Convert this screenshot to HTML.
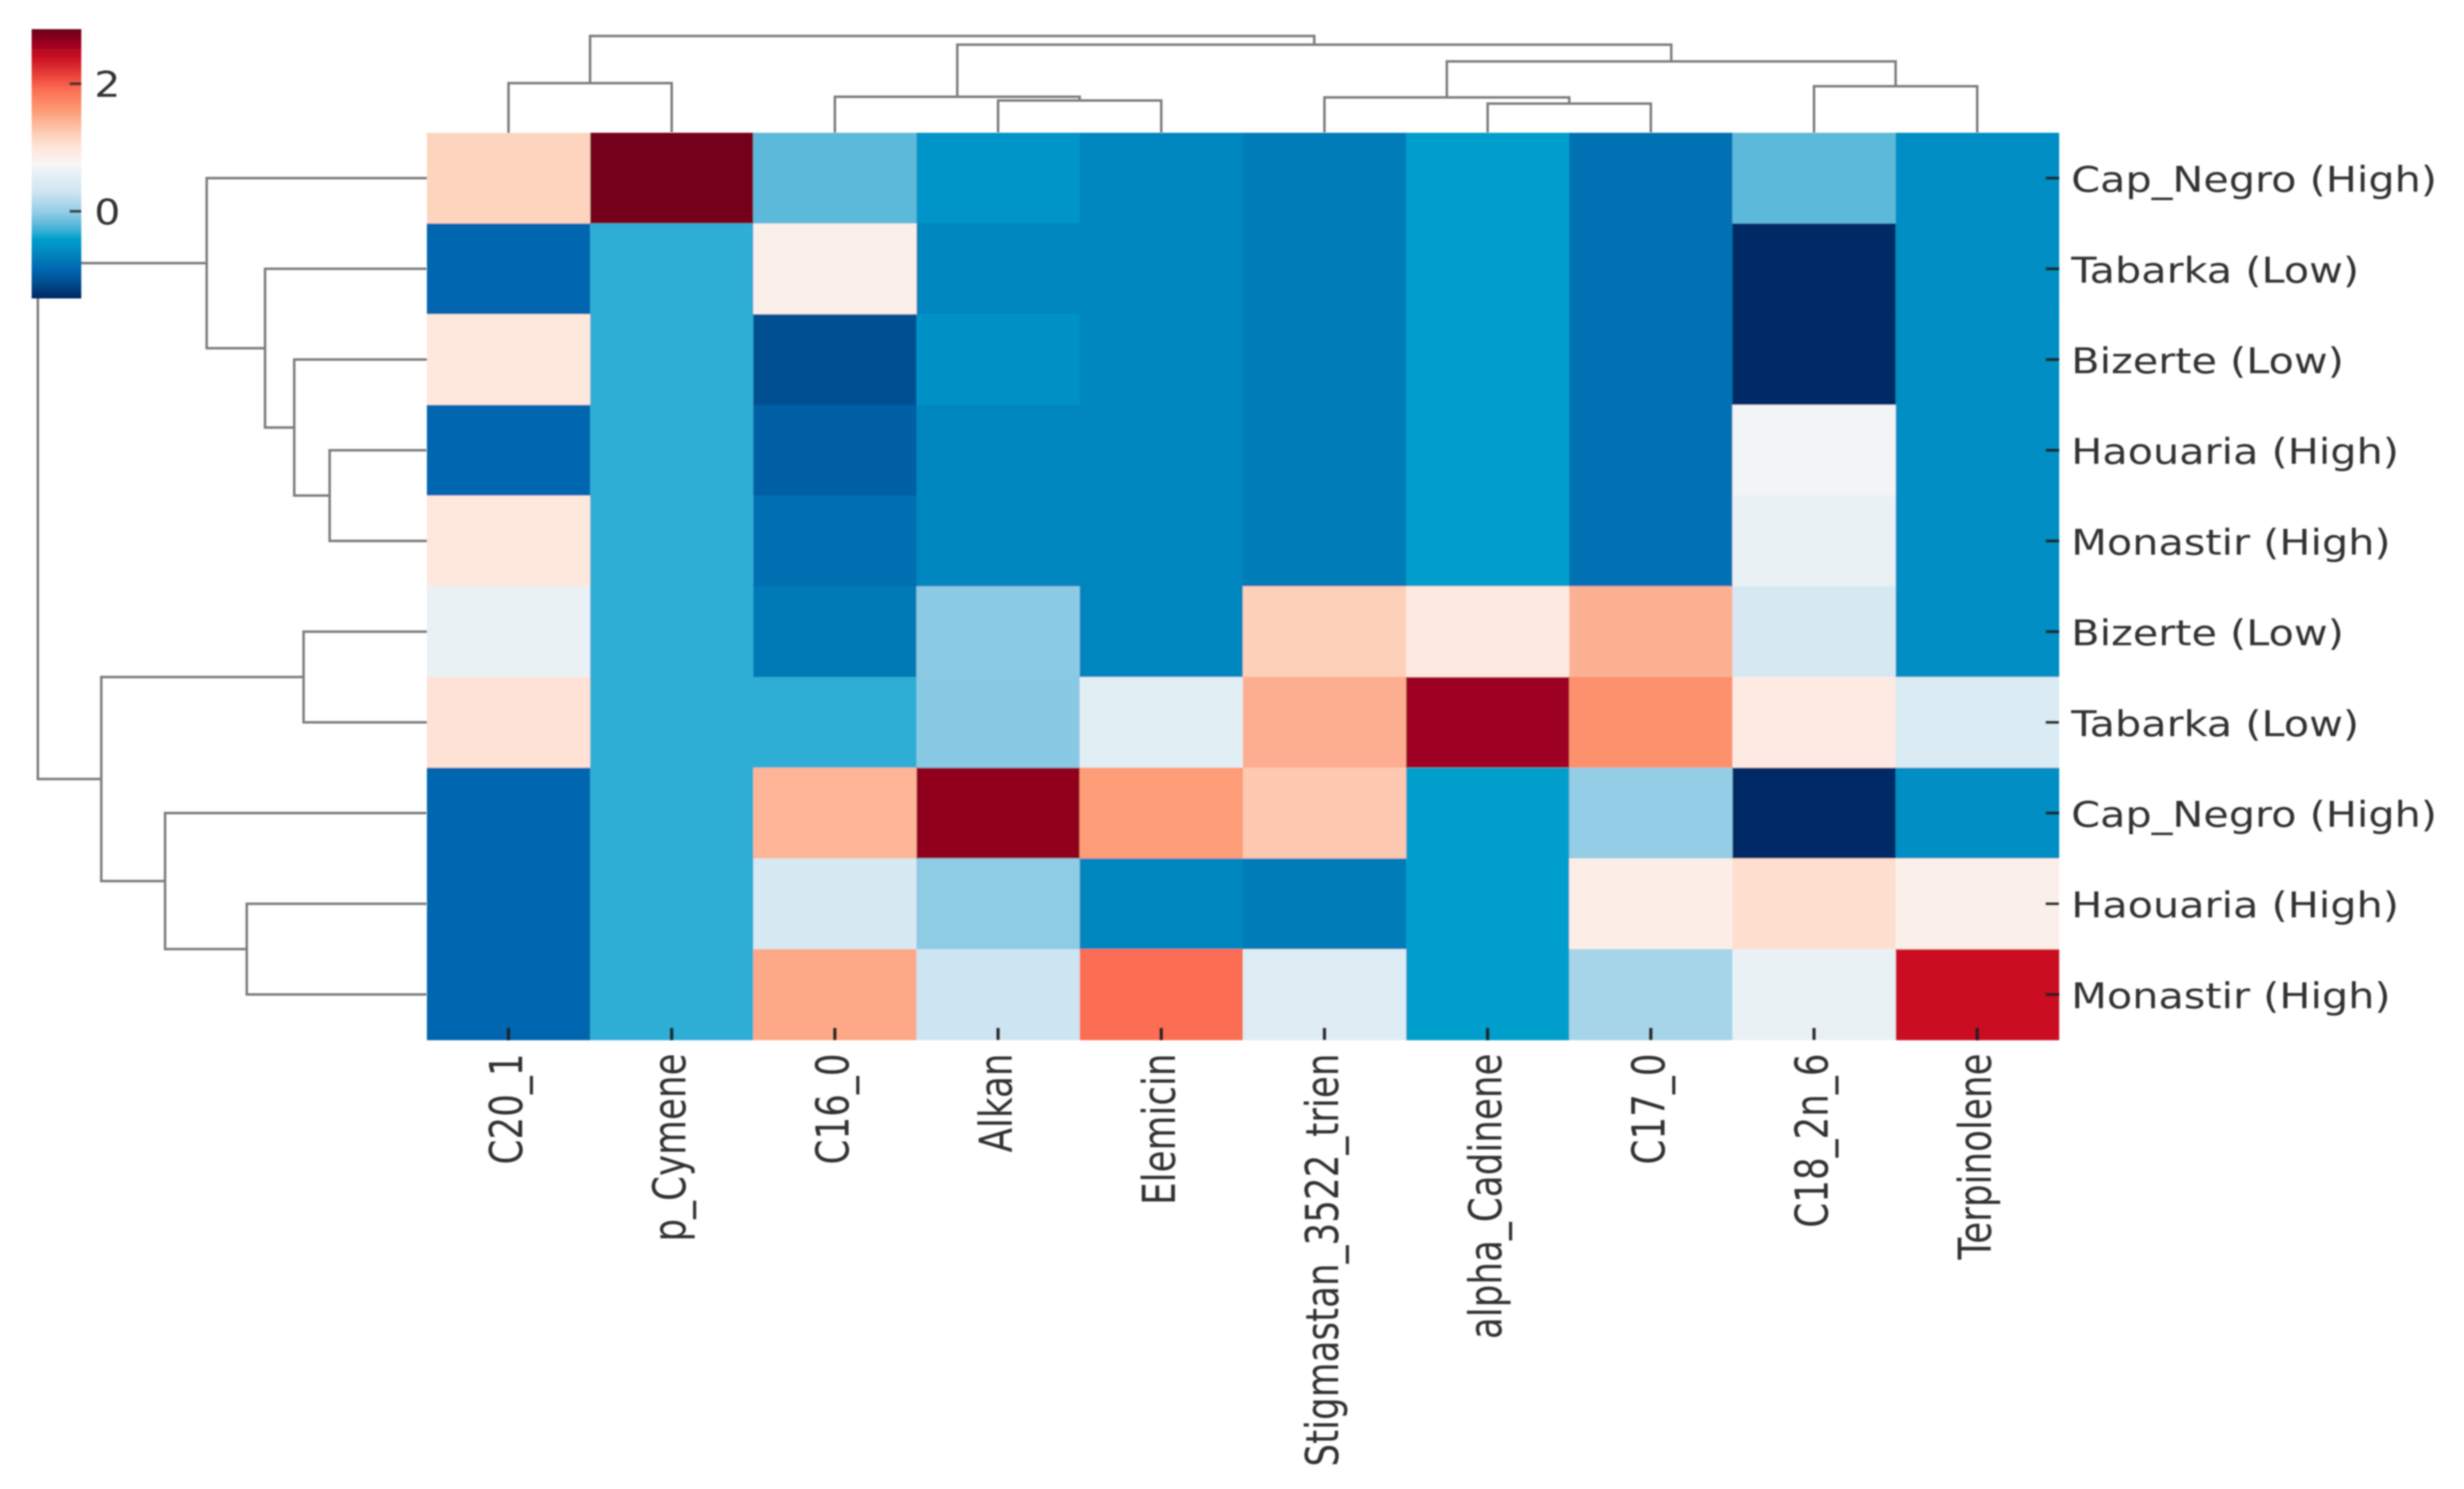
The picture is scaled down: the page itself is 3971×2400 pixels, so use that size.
<!DOCTYPE html>
<html lang="en">
<head>
<meta charset="utf-8">
<title>Clustered heatmap</title>
<style>
html,body{margin:0;padding:0;background:#fff;width:3971px;height:2400px;overflow:hidden}
svg{display:block}
text{font-family:"DejaVu Sans","Liberation Sans",sans-serif;fill:#333}
</style>
</head>
<body>
<svg id="chart" xmlns="http://www.w3.org/2000/svg" width="3971" height="2400" viewBox="0 0 3971 2400">
<defs>
<filter id="softer" x="0" y="0" width="3971" height="2400" filterUnits="userSpaceOnUse"><feGaussianBlur stdDeviation="1.3"/></filter>
<linearGradient id="cbar-gradient" x1="0" y1="1" x2="0" y2="0"></linearGradient>
</defs>
<rect x="0" y="0" width="3971" height="2400" fill="#ffffff"/>
<g id="heat" filter="url(#softer)"></g>
<g id="rowTree" filter="url(#softer)"></g>
<g id="colTree" filter="url(#softer)"></g>
<g id="cbar" filter="url(#softer)"></g>
<g id="ticks" filter="url(#softer)"></g>
<g id="labels" filter="url(#softer)"></g>
</svg>
<script>
// ---- chart data ----
const colLabels = ["C20_1","p_Cymene","C16_0","Alkan","Elemicin","Stigmastan_3522_trien","alpha_Cadinene","C17_0","C18_2n_6","Terpinolene"];
const rowLabels = ["Cap_Negro (High)","Tabarka (Low)","Bizerte (Low)","Haouaria (High)","Monastir (High)","Bizerte (Low)","Tabarka (Low)","Cap_Negro (High)","Haouaria (High)","Monastir (High)"];
const row0 = [1.17,2.81,-0.20,-0.52,-0.65,-0.73,-0.44,-0.82,-0.20,-0.58];
const row1 = [-0.92,-0.33,0.85,-0.65,-0.65,-0.73,-0.44,-0.82,-1.34,-0.58];
const row2 = [0.96,-0.33,-1.11,-0.55,-0.65,-0.73,-0.44,-0.82,-1.34,-0.58];
const row3 = [-0.92,-0.33,-0.99,-0.65,-0.65,-0.73,-0.44,-0.82,0.70,-0.58];
const row4 = [0.96,-0.33,-0.84,-0.65,-0.65,-0.73,-0.44,-0.82,0.62,-0.58];
const row5 = [0.62,-0.33,-0.75,-0.04,-0.65,1.20,0.94,1.42,0.40,-0.58];
const row6 = [1.02,-0.33,-0.33,-0.05,0.53,1.44,2.62,1.65,0.92,0.45];
const row7 = [-0.92,-0.33,1.40,2.68,1.57,1.25,-0.44,-0.01,-1.34,-0.58];
const row8 = [-0.92,-0.33,0.41,-0.03,-0.65,-0.73,-0.44,0.87,1.06,0.85];
const row9 = [-0.92,-0.33,1.48,0.30,1.90,0.49,-0.44,0.09,0.62,2.41];
const heatRows = [row0,row1,row2,row3,row4,row5,row6,row7,row8,row9];
const colorbarTicks = [0,2];
const colorbarDomain = [-1.366,2.856];
// Dendrogram merges: node ids 0-9 are leaves, merge k creates node 10+k.
const colMergeLeft = [0,3,2,6,5,8,14,12,10];
const colMergeRight = [1,4,11,7,13,9,15,16,17];
const colMergeHeight = [51.3,33.3,37.2,30.1,36.5,48.1,73.7,91,100];
const rowMergeLeft = [3,2,1,0,5,8,7,14,13];
const rowMergeRight = [4,10,11,12,6,9,15,16,17];
const rowMergeHeight = [25.0,34.1,41.6,56.6,31.7,46.3,67.3,83.7,100];

// ---- layout and axis functions ----
const NS = "http://www.w3.org/2000/svg";
const heatLeft = 688, heatRight = 3318, heatTop = 214, heatBottom = 1676;
const cellW = (heatRight - heatLeft) / colLabels.length;
const cellH = (heatBottom - heatTop) / rowLabels.length;
const xScale = i => heatLeft + cellW * i;
const yScale = i => heatTop + cellH * i;
const colTreeScale = h => heatTop - h * 1.56;
const rowTreeScale = h => heatLeft - h * 6.27;
const cbarLeft = 51, cbarRight = 131, cbarTop = 47, cbarBottom = 481;
const cbarScale = v => cbarBottom - (v - colorbarDomain[0]) / (colorbarDomain[1] - colorbarDomain[0]) * (cbarBottom - cbarTop);

const cmapPos = [0,.06,.105,.15,.2,.22,.245,.275,.32,.395,.47,.5,.55,.6,.66,.7,.78,.83,.895,.95,1];
const cmapCol = ["#002860","#004f90","#0066b0","#007cb8","#0095c8","#009ecb","#2dadd5","#5cb8da","#92cde6","#cde5f2","#e9f1f5","#f8f6f5","#fee8de","#fdd5bf","#fdb193","#fd9a75","#fc6a50","#e8403a","#cb1024","#98001f","#6a0018"];
function hexRgb(h){return [1,3,5].map(p=>parseInt(h.substr(p,2),16));}
function colorOf(v){
  let t=(v-colorbarDomain[0])/(colorbarDomain[1]-colorbarDomain[0]);
  t=Math.max(0,Math.min(1,t));
  let k=0;
  while(k<cmapPos.length-2 && t>cmapPos[k+1]) k++;
  const f=(t-cmapPos[k])/(cmapPos[k+1]-cmapPos[k]);
  const a=hexRgb(cmapCol[k]), b=hexRgb(cmapCol[k+1]);
  return "rgb("+a.map((c,i)=>Math.round(c+(b[i]-c)*f)).join(",")+")";
}
function mk(tag,parent,attrs){
  const el=document.createElementNS(NS,tag);
  for(const k in attrs) el.setAttribute(k,attrs[k]);
  parent.appendChild(el);
  return el;
}

// ---- heatmap cells ----
const heat=document.getElementById("heat");
heatRows.forEach((vals,r)=>{
  vals.forEach((v,c)=>{
    const cell=mk("rect",heat,{x:xScale(c),y:yScale(r),width:cellW+0.6,height:cellH+0.6,fill:colorOf(v)});
    
    
  });
});

// ---- dendrograms ----
function drawColTree(){
  const g=document.getElementById("colTree");
  const pos={}, hgt={};
  colLabels.forEach((_,i)=>{pos[i]=xScale(i)+cellW/2;hgt[i]=0;});
  colMergeHeight.forEach((h,k)=>{
    const a=colMergeLeft[k], b=colMergeRight[k];
    const d="M"+pos[a]+" "+colTreeScale(hgt[a])+"V"+colTreeScale(h)+"H"+pos[b]+"V"+colTreeScale(hgt[b]);
    const link=mk("path",g,{d:d,fill:"none",stroke:"#7c7c7c","stroke-width":4});
    
    
    pos[10+k]=(pos[a]+pos[b])/2;
    hgt[10+k]=h;
  });
}
function drawRowTree(){
  const g=document.getElementById("rowTree");
  const pos={}, hgt={};
  rowLabels.forEach((_,i)=>{pos[i]=yScale(i)+cellH/2;hgt[i]=0;});
  rowMergeHeight.forEach((h,k)=>{
    const a=rowMergeLeft[k], b=rowMergeRight[k];
    const d="M"+rowTreeScale(hgt[a])+" "+pos[a]+"H"+rowTreeScale(h)+"V"+pos[b]+"H"+rowTreeScale(hgt[b]);
    const link=mk("path",g,{d:d,fill:"none",stroke:"#7c7c7c","stroke-width":4});
    
    
    pos[10+k]=(pos[a]+pos[b])/2;
    hgt[10+k]=h;
  });
}
drawRowTree();
drawColTree();

// ---- colorbar ----
const grad=document.getElementById("cbar-gradient");
cmapPos.forEach((p,i)=>{mk("stop",grad,{offset:p,"stop-color":cmapCol[i]});});
const cbar=document.getElementById("cbar");
const cbarRect=mk("rect",cbar,{x:cbarLeft,y:cbarTop,width:cbarRight-cbarLeft,height:cbarBottom-cbarTop,fill:"url(#cbar-gradient)"});


colorbarTicks.forEach(v=>{
  const t=mk("rect",cbar,{x:cbarRight-19,y:cbarScale(v)-2.5,width:19,height:5,fill:"#2a2a2a",opacity:.85});
  
  
  const lab=mk("text",cbar,{transform:"translate(152,"+(cbarScale(v)+21)+") scale(1.16,1)","font-size":57});
  
  
  lab.textContent=v;
});

// ---- ticks and labels ----
const ticks=document.getElementById("ticks"), labels=document.getElementById("labels");
colLabels.forEach((name,i)=>{
  const cx=xScale(i)+cellW/2;
  const t=mk("rect",ticks,{x:cx-2.5,y:heatBottom-19,width:5,height:19,fill:"#1e1e1e",opacity:.95});
  
  
  const lab=mk("text",labels,{transform:"translate("+(cx+22)+",1698) scale(1.27,1) rotate(-90)","font-size":57.6,"text-anchor":"end"});
  
  
  lab.textContent=name;
});
rowLabels.forEach((name,i)=>{
  const cy=yScale(i)+cellH/2;
  const t=mk("rect",ticks,{x:heatRight-21,y:cy-2,width:21,height:4,fill:"#1e1e1e",opacity:.95});
  
  
  const lab=mk("text",labels,{transform:"translate(3338,"+(cy+22)+") scale(1.17,1)","font-size":57});
  
  
  lab.textContent=name;
});
</script>
</body>
</html>
